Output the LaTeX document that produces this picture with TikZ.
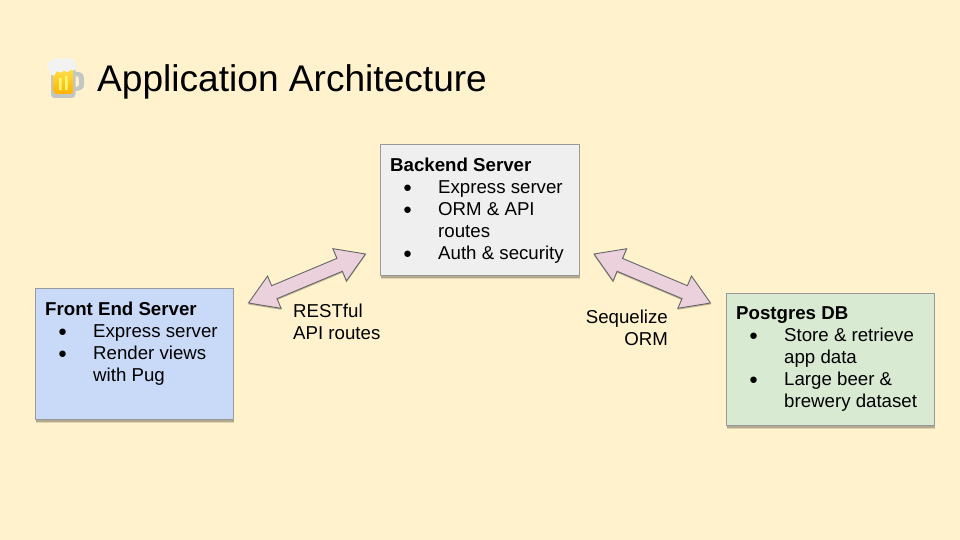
\documentclass[tikz,border=0pt]{standalone}
\usepackage{fontspec}
\setmainfont{Liberation Sans}
\usetikzlibrary{calc,shadows}

\definecolor{slidebg}{HTML}{FFF2CC}
\definecolor{frontblue}{HTML}{C9DAF8}
\definecolor{backgray}{HTML}{EFEFEF}
\definecolor{dbgreen}{HTML}{D9EAD3}
\definecolor{arrowpink}{HTML}{EAD1DC}
\definecolor{beertop}{HTML}{FFE04D}
\definecolor{beerlow}{HTML}{FFB300}
\definecolor{glassgray}{HTML}{C4C6C4}

\tikzset{
  softshadow/.style={
    drop shadow={shadow xshift=0pt,shadow yshift=-3.5pt,opacity=.12,fill=black},
    drop shadow={shadow xshift=0pt,shadow yshift=-2pt,opacity=.2,fill=black}},
  box/.style={draw=black!40,line width=1pt,anchor=north west,inner sep=0pt,softshadow},
  boxtext/.style={anchor=north west,inner sep=0pt,align=left,
    font=\fontsize{18.67}{22}\selectfont},
  label/.style={inner sep=0pt,font=\fontsize{18.67}{22}\selectfont},
  fatarrow/.style={draw=black!60,fill=arrowpink,line width=.9pt,line join=miter,
    drop shadow={shadow xshift=0pt,shadow yshift=-1.5pt,opacity=.25,fill=black}}
}

\newcommand{\bul}{\makebox[48pt][l]{\hspace{13pt}\raisebox{1pt}{\scalebox{.8}{●}}}}
\newcommand{\cont}{\hspace*{48pt}}
\newcommand{\dblarrow}[2]{%
  \draw[fatarrow] (#1)
    -- ($(#1)!28pt!(#2)!17.5pt!90:(#2)$)
    -- ($(#1)!28pt!(#2)!7pt!90:(#2)$)
    -- ($(#2)!28pt!(#1)!7pt!-90:(#1)$)
    -- ($(#2)!28pt!(#1)!17.5pt!-90:(#1)$)
    -- (#2)
    -- ($(#2)!28pt!(#1)!17.5pt!90:(#1)$)
    -- ($(#2)!28pt!(#1)!7pt!90:(#1)$)
    -- ($(#1)!28pt!(#2)!7pt!-90:(#2)$)
    -- ($(#1)!28pt!(#2)!17.5pt!-90:(#2)$)
    -- cycle;}

\begin{document}
\begin{tikzpicture}[x=1pt,y=-1pt]
  \fill[slidebg] (0,0) rectangle (960,540);
  \useasboundingbox (0,0) rectangle (960,540);

  % beer mug
  \fill[glassgray] (74,72) -- (78,72) .. controls (82,72) and (84,75) .. (84,79)
    -- (84,85) .. controls (84,89) and (81,91) .. (74,91) -- (74,87)
    -- (76,87) .. controls (78,87) and (79,86) .. (79,84) -- (79,79)
    .. controls (79,77) and (78,76) .. (76,76) -- (74,76) -- cycle;
  \fill[glassgray] (51,66) -- (75.5,66) -- (75.5,94) .. controls (75.5,97) and (74,98) .. (71,98)
    -- (55,98) .. controls (52,98) and (51,97) .. (51,94) -- cycle;
  \shade[top color=beertop,bottom color=beerlow] (53.5,68) -- (73,68) -- (73,91)
    .. controls (73,93) and (72,94) .. (70,94)
    -- (57,94) .. controls (55,94) and (53.5,93) .. (53.5,91) -- cycle;
  \fill[yellow!55!white] (59,78) rectangle (61.5,90) (65,76) rectangle (67.5,90);
  \fill[white!95!black] (51,65) circle (4pt) (57,63) circle (5.5pt) (64,63.5) circle (5.5pt)
    (70,63) circle (5pt) (73,67) circle (3.5pt) (53,70) circle (4pt) (53,73) circle (2.5pt)
    (60,68) circle (4.5pt) (67,68) circle (4pt);

  \node[anchor=base west,inner sep=0pt,font=\fontsize{37.1}{44}\selectfont] (title)
    at (97,92) {Application Architecture};

  \node[box,fill=frontblue,minimum width=198pt,minimum height=131pt] (front) at (35,288) {};
  \node[boxtext] (fronttext) at ($(front.north west)+(10,14)$) {%
    \textbf{Front End Server}\\
    \bul Express server\\
    \bul Render views\\
    \cont with Pug};

  \node[box,fill=backgray,minimum width=199pt,minimum height=131pt] (back) at (380,144) {};
  \node[boxtext] (backtext) at ($(back.north west)+(10,14)$) {%
    \textbf{Backend Server}\\
    \bul Express server\\
    \bul ORM \& API\\
    \cont routes\\
    \bul Auth \& security};

  \node[box,fill=dbgreen,minimum width=208pt,minimum height=132pt] (db) at (726,293) {};
  \node[boxtext] (dbtext) at ($(db.north west)+(10,13)$) {%
    \textbf{Postgres DB}\\
    \bul Store \& retrieve\\
    \cont app data\\
    \bul Large beer \&\\
    \cont brewery dataset};

  \coordinate (restL) at (248.5,303);
  \coordinate (restR) at (365.5,254);
  \coordinate (seqL) at (594,254);
  \coordinate (seqR) at (710.5,303);
  \dblarrow{restL}{restR}
  \dblarrow{seqL}{seqR}

  \node[label,anchor=north west,align=left] (restlabel) at (293,304) {RESTful\\API routes};
  \node[label,anchor=north east,align=right] (seqlabel) at (668,309.5) {Sequelize\\ORM};
\end{tikzpicture}
\end{document}
